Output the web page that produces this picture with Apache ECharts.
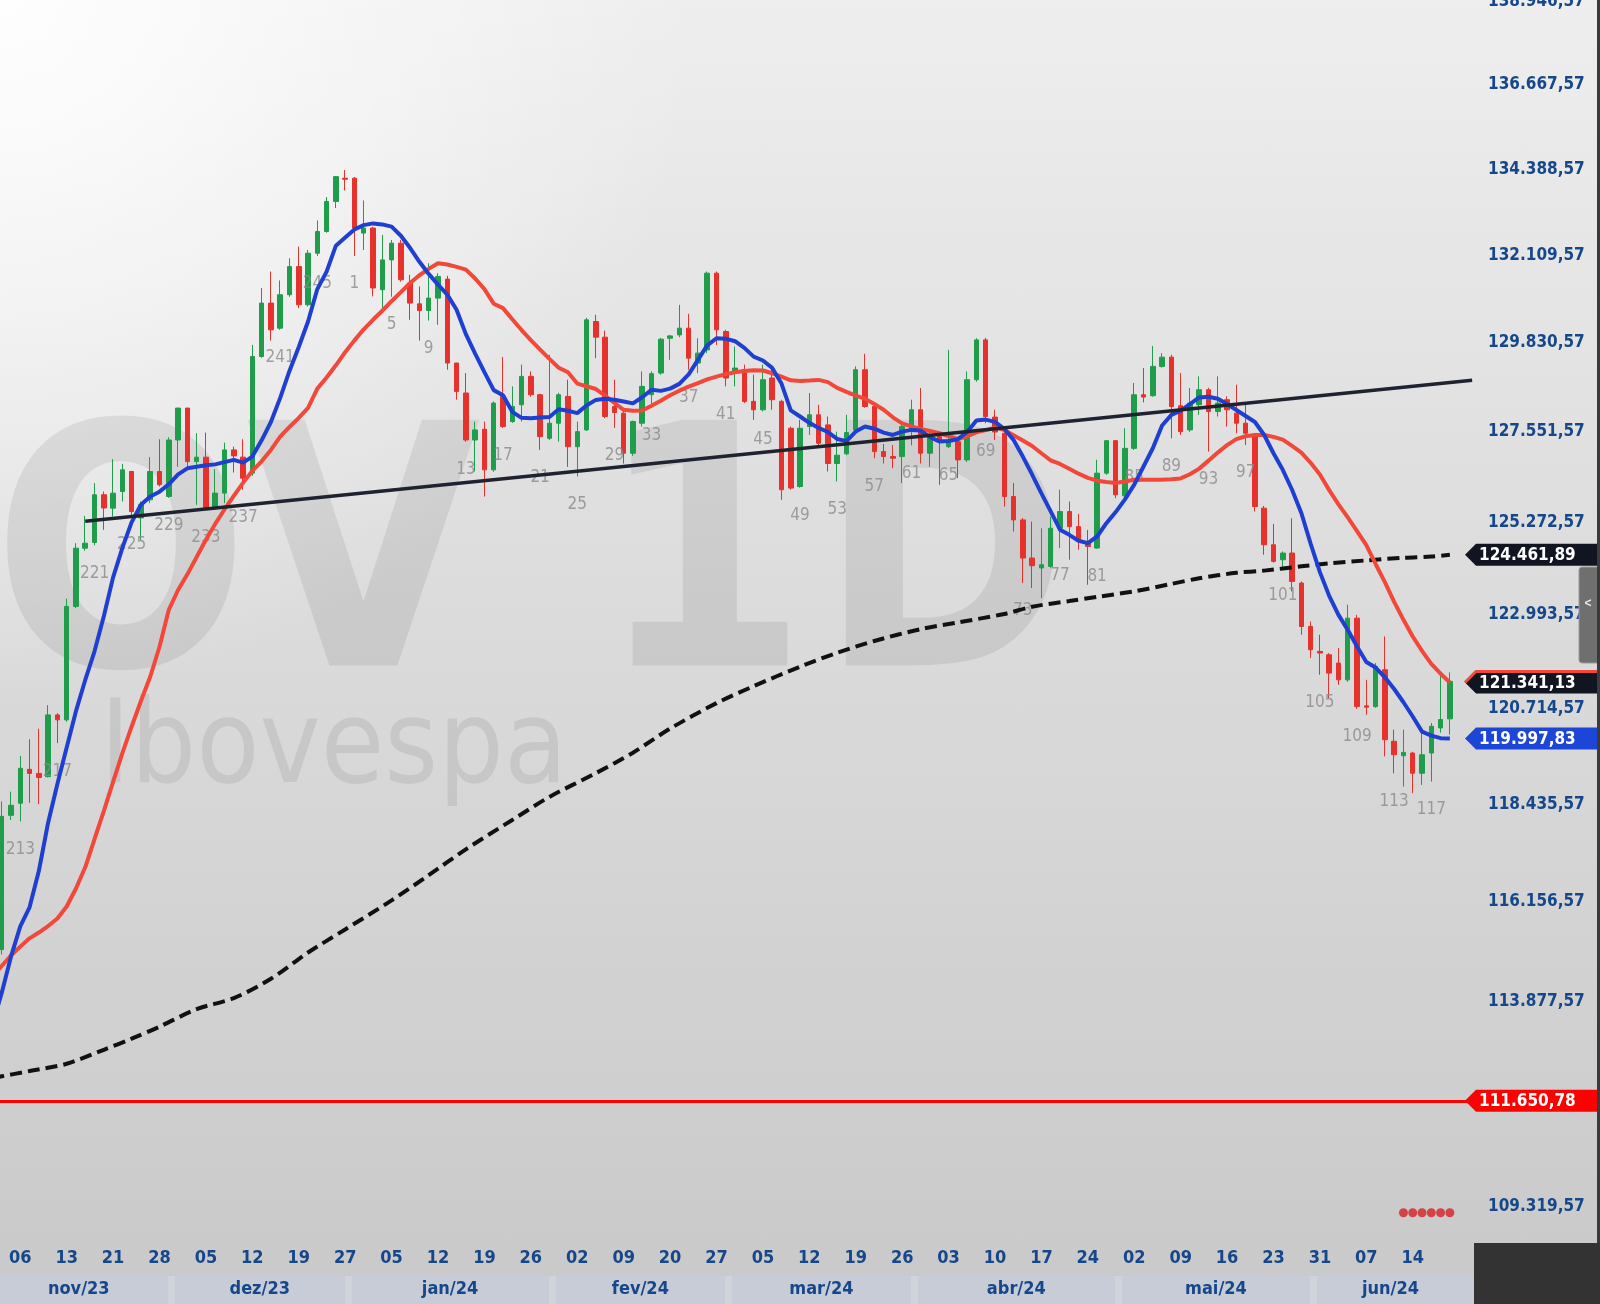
<!DOCTYPE html>
<html><head><meta charset="utf-8">
<script src="https://cdn.jsdelivr.net/npm/echarts@6/dist/echarts.min.js"></script>
<style>
html,body{margin:0;padding:0;background:#d8d8d8;}
#c{width:1600px;height:1304px;
background:radial-gradient(circle at 0 0, rgba(255,255,255,0.95) 0px, rgba(255,255,255,0) 700px), linear-gradient(to bottom,#eeeeee 0%,#dcdcdc 45%,#c9c9c9 100%);}
</style></head><body><div id="c"></div>
<script>
// ---------------- data ----------------
const openP = [
115061,118175,118460,119262,119165,119088,120561,120442,123191,124627,
124769,125960,125624,126040,126543,125380,125832,126543,125915,127339,
128150,126793,126905,125624,126000,127088,126905,126502,129472,130855,
130204,131074,131810,130811,132160,132733,133529,134148,134148,132690,
132823,131204,131985,132425,131378,130837,130662,130985,131481,129303,
128535,127339,127612,126585,128449,127807,128235,128961,128491,127382,
127765,128449,127170,127595,130377,129971,128191,128021,127004,127765,
128491,129047,129944,130030,130204,129303,129642,131637,130117,129089,
129132,128321,128107,128919,128321,127637,126166,127680,127979,127722,
126745,126988,127595,129132,128191,127046,126920,126920,127595,128107,
127004,127424,127170,127296,126835,128876,129901,127920,127510,125915,
125330,124383,124136,124176,125121,125539,125163,124754,124630,126502,
127322,125932,127127,128491,128466,129218,129456,128210,127595,128235,
128619,128064,128364,128021,127765,127467,125624,124712,124341,124506,
123765,122700,122093,122012,121810,121405,122904,120778,120760,121648,
119929,119585,119649,119169,119649,120248,120466];
const closeP = [
118151,118412,119286,119165,119068,120561,120442,123191,124627,124751,
125958,125628,125999,126585,125539,125707,126543,126209,127339,128150,
126793,126905,125624,126000,127088,126937,126376,129472,130855,130161,
131074,131810,130811,132160,132733,133529,134190,134120,132823,132823,
131249,131985,132425,131465,130855,130662,130985,131551,129303,128576,
127339,127595,126585,128278,127679,128191,128961,128491,127424,127765,
128491,127170,127551,130420,129971,127935,128037,127004,127807,128705,
129031,129919,130004,130204,129430,129559,131637,130161,128919,129175,
128321,128107,128876,128364,126085,126126,127637,127979,127254,126745,
126954,127527,129132,128191,127046,126920,126878,127680,128107,127004,
127382,127296,127339,126835,128876,129901,127935,127540,125915,125330,
124383,124193,124218,125121,125539,125163,124793,124671,126502,127322,
125957,127127,128491,128432,129218,129456,128191,127551,128278,128619,
128064,128278,128107,127765,127510,125664,124712,124300,124506,123806,
122700,122134,122053,121567,121405,122904,120760,120746,121729,119968,
119609,119664,119169,119609,120288,120449,121366];
const lowP = [
114950,118066,118032,118470,118438,119070,119886,120400,123150,124562,
124700,125083,125413,125790,125413,124835,125749,126166,125882,126660,
126660,125707,125580,125580,125749,126518,126085,126435,129440,129883,
130161,131020,130725,130767,132089,132700,133354,133820,132089,132245,
131030,130681,131020,131415,130420,129883,130401,130291,129132,128364,
127290,126543,125915,126535,127646,127773,127807,128440,127088,127339,
127296,126660,126418,127570,129430,127893,127646,126745,126937,127680,
128158,129004,129387,129971,129132,129047,129559,129771,128705,128705,
128278,127850,128064,128107,125832,126085,126134,127467,127212,126543,
126292,126954,127544,128158,126878,126745,126627,126251,127203,126745,
126660,126209,127136,126376,126785,128825,127765,127339,125664,125040,
123765,123642,123396,124143,124630,124341,124588,123723,124613,126460,
125874,125907,127088,128295,128440,129183,127382,127467,127544,127979,
127046,127935,127680,127510,127212,125539,124465,124268,124136,123560,
122498,121932,121527,120965,121284,121357,120705,120563,120730,119569,
119169,118853,118697,118893,118972,120135,120087];
const highP = [
118500,118732,119578,119978,120231,120794,120602,123381,124751,125431,
126250,126040,126854,126736,126560,125790,126905,127357,127408,128158,
128158,127511,127527,126603,127271,127170,127357,129771,131249,131680,
131446,132029,132335,132245,133025,133646,134208,134367,134180,133556,
132858,132643,132510,132510,131595,131290,131898,131637,131567,129310,
129047,127807,127807,128319,129456,128705,129262,129089,128517,129515,
128542,128876,127807,130473,130551,130143,128876,128081,127833,129089,
129089,129953,130030,130811,130577,129944,131680,131680,130161,129728,
129262,129004,129262,129175,128364,127680,127850,128535,128235,127935,
127551,127979,129218,129542,128235,127238,127212,127722,128364,128663,
127551,127551,129642,127382,129089,129944,129953,128107,127595,126251,
125380,125288,125121,125413,126085,125790,125480,125080,126838,127339,
127339,127637,128792,129175,129745,129559,129515,129047,128663,128961,
128670,128961,128449,128748,128235,127518,125680,125231,124547,125372,
123806,122822,122498,122053,122175,123236,122985,121405,121810,122458,
120207,120207,119680,120248,120369,121502,121583];

// short moving average (blue), one value per bar starting at bar -1
const fastMA = [
113356,114070,114899,115593,116031,116872,118002,118916,119783,120650,121402,
122097,122952,123905,124636,125275,125709,125915,126036,126222,126472,
126623,126663,126700,126723,126780,126836,126766,126919,127331,127795,
128410,129101,129718,130376,131221,131678,132359,132576,132788,132902,
132947,132920,132862,132620,132297,131935,131617,131338,131075,130682,
130050,129549,129070,128609,128480,128055,127902,127894,127910,127925,
128121,128083,128022,128218,128359,128389,128361,128318,128270,128426,
128620,128590,128648,128769,129012,129387,129758,129943,129932,129867,
129694,129469,129369,129179,128777,128092,127936,127774,127645,127541,
127365,127310,127554,127682,127625,127527,127467,127551,127595,127577,
127411,127302,127315,127360,127541,127832,127857,127798,127623,127339,
126920,126467,125993,125542,125087,124959,124811,124754,124917,125248,
125526,125842,126212,126670,127130,127707,127977,128085,128252,128423,
128441,128389,128252,128100,127948,127795,127465,127004,126585,126085,
125503,124739,124035,123450,122984,122619,122213,121837,121701,121467,
121183,120865,120522,120160,120063,120004,119997.83];
// medium moving average (red), one value per bar starting at bar -1
const slowMA = [
114441,114684,114924,115128,115318,115451,115600,115774,116051,116467,116960,
117620,118275,118966,119645,120284,120894,121480,122206,123107,123594,
123980,124408,124835,125230,125591,125932,126257,126560,126800,127088,
127423,127669,127902,128158,128647,128932,129246,129583,129888,130174,
130421,130656,130904,131141,131379,131582,131749,131896,131864,131802,
131729,131497,131221,130840,130725,130436,130156,129893,129649,129411,
129183,129065,128776,128709,128637,128466,128281,128105,128082,128087,
128208,128336,128479,128594,128697,128789,128884,128956,129018,129067,
129100,129121,129113,129041,128956,128861,128843,128856,128871,128815,
128666,128563,128468,128391,128257,128107,127915,127762,127683,127620,
127569,127509,127440,127360,127433,127534,127590,127649,127595,127462,
127327,127186,127004,126826,126733,126613,126488,126383,126313,126278,
126255,126293,126335,126335,126335,126335,126348,126370,126473,126616,
126817,127023,127209,127362,127433,127467,127467,127419,127349,127189,
127020,126764,126468,126075,125719,125394,125053,124704,124236,123790,
123301,122863,122457,122107,121790,121552,121341.13];
// long moving average (black dashed), readings [bar, value]
const longMA = [
[-1,112157],[3,112312],[7,112475],[11,112789],[14,113038],[17,113308],[21,113705],
[25,113954],[29,114394],[33,114993],[37,115522],[42,116191],[46,116776],[50,117379],
[55,118067],[59,118609],[64,119171],[68,119658],[72,120232],[77,120843],[81,121252],
[86,121723],[90,122061],[94,122347],[99,122636],[103,122799],[108,123006],[111,123184],
[115,123322],[118,123426],[122,123561],[126,123744],[129,123882],[133,124018],[136,124072],
[140,124178],[143,124252],[147,124324],[151,124389],[154,124421],[156,124461.89]];
// support trend line through two points [bar, value]
const trendLine = [[9,125295],[158.4,128860]];
const supportLevel = 111650.78;
const signalBars = [151,152,153,154,155,156];
const signalLevel = 109190;

const yTicks = [109319.57,113877.57,116156.57,118435.57,120714.57,122993.57,125272.57,
  127551.57,129830.57,132109.57,134388.57,136667.57,138946.57];
const dayTicks = ['06','13','21','28','05','12','19','27','05','12','19','26','02','09','20','27',
  '05','12','19','26','03','10','17','24','02','09','16','23','31','07','14'];
const dayTickFirstBar = 2, dayTickStep = 5;
const barNumberLabels = ['213','217','221','225','229','233','237','241','245','1','5','9','13','17',
  '21','25','29','33','37','41','45','49','53','57','61','65','69','73','77','81','85','89','93','97',
  '101','105','109','113','117'];
const barNumberFirstBar = 2, barNumberStep = 4;
const months = ['nov/23','dez/23','jan/24','fev/24','mar/24','abr/24','mai/24','jun/24'];
const monthStartBar = [0,20,39,61,80,100,122,143];

// ---------------- layout / style ----------------
const X_MIN = -0.183, X_MAX = 158.6;
const Y_MIN = 108535, Y_MAX = 138990;
const GREEN = '#1f9d4b', RED = '#e5322d';
const BLUE_MA = '#1f3fd0', RED_MA = '#f2483a';
const AXIS_BLUE = '#15478a';
const FONT_C = '"DejaVu Sans Condensed", "DejaVu Sans", sans-serif';

function fmtBR(v){
  const s = Number(v).toFixed(2); const p = s.split('.');
  return p[0].replace(/\B(?=(\d{3})+(?!\d))/g,'.') + ',' + p[1];
}
const dayTickBars = dayTicks.map((_,k)=>dayTickFirstBar + k*dayTickStep);
const dayByBar = {}; dayTickBars.forEach((b,k)=>{dayByBar[b]=dayTicks[k];});
const monthCenters = months.map((m,k)=>{
  const s = monthStartBar[k];
  const e = k < months.length-1 ? monthStartBar[k+1]-1 : X_MAX;
  return +(((s+e)/2) - 1.2).toFixed(2);
});
const monthByPos = {}; monthCenters.forEach((c,k)=>{monthByPos[c]=months[k];});
const monthSeps = monthStartBar.slice(1).map(b=>b-1.7);

const candles = openP.map((o,i)=>[i,o,closeP[i],lowP[i],highP[i]]);
const numberLabelData = barNumberLabels.map((t,k)=>{
  const i = barNumberFirstBar + k*barNumberStep; return [i, lowP[i], t];
});

const chart = echarts.init(document.getElementById('c'), null, {renderer:'canvas'});
chart.setOption({
  animation:false,
  backgroundColor:'transparent',
  grid:{left:0, top:0, right:126, bottom:61, containLabel:false, outerBoundsMode:'none'},
  xAxis:[{
    type:'value', min:X_MIN, max:X_MAX, position:'bottom',
    axisLine:{show:false}, axisTick:{show:false}, splitLine:{show:false},
    axisLabel:{customValues:dayTickBars, formatter:v=>dayByBar[Math.round(v)]||'',
      margin:6, color:AXIS_BLUE, fontWeight:'bold', fontSize:18, fontFamily:FONT_C}
  },{
    type:'value', min:X_MIN, max:X_MAX, position:'bottom', offset:33,
    axisLine:{show:false}, splitLine:{show:false},
    axisTick:{show:true, customValues:monthSeps, length:28, lineStyle:{color:'#d0d3da', width:7}},
    axisLabel:{customValues:monthCenters, formatter:v=>monthByPos[v]||'',
      margin:4, color:AXIS_BLUE, fontWeight:'bold', fontSize:18, fontFamily:FONT_C}
  }],
  yAxis:{
    type:'log', logBase:10, min:Y_MIN, max:Y_MAX, position:'right',
    axisLine:{show:false}, axisTick:{show:false}, splitLine:{show:false},
    axisLabel:{customValues:yTicks, formatter:v=>fmtBR(v), margin:14, padding:[4,0,0,0],
      color:AXIS_BLUE, fontWeight:'bold', fontSize:17, fontFamily:FONT_C}
  },
  series:[
    {type:'candlestick', name:'Ibovespa', data:candles, barWidth:5, z:2,
     itemStyle:{color:GREEN, color0:RED, borderColor:GREEN, borderColor0:RED, borderWidth:1},
     markLine:{silent:true, symbol:['none','none'], label:{show:false},
       lineStyle:{color:'#ff0000', width:3, type:'solid'}, data:[{yAxis:supportLevel}]}},
    {type:'scatter', name:'bar numbers', data:numberLabelData, symbolSize:1, z:2,
     itemStyle:{color:'rgba(0,0,0,0)'},
     label:{show:true, position:'bottom', distance:19, formatter:p=>p.data[2],
       color:'#8a8a8a', fontSize:17, fontFamily:FONT_C}},
    {type:'line', name:'MA longa', data:longMA, showSymbol:false, smooth:0.3, z:3,
     lineStyle:{color:'#111111', width:4, type:[12,6]}},
    {type:'line', name:'MA média', data:slowMA.map((v,k)=>[k-1,v]), showSymbol:false, z:4,
     lineStyle:{color:RED_MA, width:4}},
    {type:'line', name:'MA curta', data:fastMA.map((v,k)=>[k-1,v]), showSymbol:false, z:5,
     lineStyle:{color:BLUE_MA, width:4}},
    {type:'line', name:'LTA', data:trendLine, showSymbol:false, z:6,
     lineStyle:{color:'#1f2330', width:3.5}},
    {type:'scatter', name:'sinal', data:signalBars.map(b=>[b,signalLevel]), symbolSize:9, z:6,
     itemStyle:{color:'#d51f26'}}
  ]
});

// ---------------- overlays (watermark, tags, frame) ----------------
const yOf = v => chart.convertToPixel({yAxisIndex:0}, v);
function tag(value, bg, topStripe){
  const y = yOf(value), h = 22, x0 = 1465;
  const els = [
    {type:'polygon', z:50, shape:{points:[[x0,y],[x0+11,y-h/2],[1600,y-h/2],[1600,y+h/2],[x0+11,y+h/2]]},
     style:{fill:bg}},
    {type:'text', z:51, x:1479, y:y+1, style:{text:fmtBR(value), fill:'#ffffff',
     font:'bold 17px '+FONT_C, textAlign:'left', textVerticalAlign:'middle', align:'left', verticalAlign:'middle'}}
  ];
  if (topStripe) els.push({type:'polyline', z:52, shape:{points:[[x0,y],[x0+11,y-h/2],[1600,y-h/2]]},
     style:{stroke:topStripe, lineWidth:3, fill:null}});
  return els;
}
const wmFill = 'rgba(0,0,0,0.075)';
const wmFont = 'bold 337px '+FONT_C;
function wm(text, x, y, font){
  return {type:'text', z:-1, x:x, y:y, style:{text:text, fill:wmFill, font:font,
    textAlign:'left', textVerticalAlign:'middle', align:'left', verticalAlign:'middle'}};
}
const elements = [
  wm('O', -8, 578, wmFont),
  wm('V', 246, 578, wmFont),
  wm('1', 597, 578, wmFont),
  wm('D', 818, 578, wmFont),
  wm('Ibovespa', 100, 752, '115px '+FONT_C),
  {type:'rect', z:-2, shape:{x:0, y:1276, width:1474, height:28}, style:{fill:'#c7ccd6'}},
  {type:'rect', z:60, shape:{x:1597, y:0, width:3, height:1243}, style:{fill:'#3a3a3a'}},
  {type:'rect', z:60, shape:{x:1474, y:1243, width:126, height:61}, style:{fill:'#333333'}},
  {type:'rect', z:55, shape:{x:1579, y:567, width:21, height:96, r:3}, style:{fill:'#6f6f6f', stroke:'#9a9a9a', lineWidth:1}},
  {type:'text', z:56, x:1588, y:604, style:{text:'<', fill:'#e6e6e6', font:'bold 12px sans-serif',
    textAlign:'center', textVerticalAlign:'middle', align:'center', verticalAlign:'middle'}}
];
elements.push(...tag(longMA[longMA.length-1][1], '#111522'));
elements.push(...tag(slowMA[slowMA.length-1], '#111522', RED_MA));
elements.push(...tag(fastMA[fastMA.length-1], '#1c46d8'));
elements.push(...tag(supportLevel, '#ff0000'));
chart.setOption({graphic:{elements:elements}});
</script></body></html>
